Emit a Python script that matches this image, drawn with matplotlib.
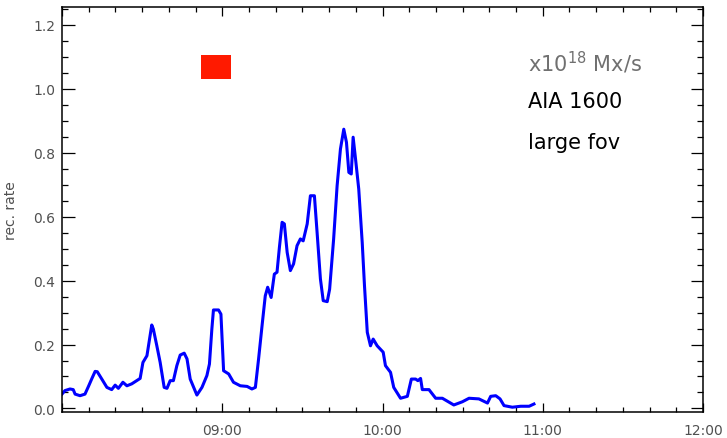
import matplotlib
matplotlib.use('Agg')
import matplotlib.pyplot as plt
from matplotlib.ticker import MultipleLocator, FuncFormatter

# minutes after 08:00 and reconnection rate (x10^18 Mx/s)
minutes = [0.0, 1.1, 3.0, 4.2, 4.9, 6.75, 8.6, 9.9, 11.1, 12.4, 13.2, 14.9, 16.8, 18.6,
           19.9, 21.1, 22.8, 24.3, 26.1, 27.4, 29.25, 30.3, 31.8, 33.6, 34.2, 35.5,
           36.75, 38.25, 39.3, 40.5, 41.7, 43.0, 44.25, 45.75, 46.8, 48.0, 50.5, 52.4,
           54.25, 55.2, 56.1, 56.7, 58.6, 59.5, 60.5, 62.4, 64.2, 66.75, 69.3, 71.1,
           72.4, 73.6, 74.9, 76.1, 77.0, 78.3, 79.5, 80.5, 81.4, 82.4, 83.25, 84.3,
           85.5, 86.7, 88.0, 89.25, 90.3, 91.8, 93.0, 94.5, 95.5, 96.75, 97.8, 99.3,
           100.2, 101.7, 103.0, 104.25, 105.5, 106.5, 107.4, 108.3, 109.0, 109.9,
           111.1, 112.4, 113.25, 114.3, 115.5, 116.5, 118.0, 120.25, 121.1, 123.0,
           124.2, 126.75, 129.3, 130.8, 132.4, 133.25, 134.25, 134.9, 137.4, 139.9,
           142.4, 146.7, 149.9, 152.4, 156.1, 159.3, 160.5, 162.4, 164.0, 165.5,
           168.6, 171.75, 174.9, 176.7]
rate = [0.045, 0.056, 0.061, 0.059, 0.045, 0.040, 0.045, 0.069, 0.092, 0.116, 0.115,
        0.092, 0.066, 0.059, 0.073, 0.063, 0.082, 0.071, 0.077, 0.084, 0.094, 0.144,
        0.165, 0.261, 0.248, 0.196, 0.144, 0.066, 0.063, 0.087, 0.087, 0.134, 0.167,
        0.173, 0.155, 0.092, 0.042, 0.066, 0.103, 0.139, 0.248, 0.308, 0.308, 0.295,
        0.118, 0.108, 0.082, 0.071, 0.069, 0.061, 0.066, 0.155, 0.259, 0.352, 0.379,
        0.347, 0.420, 0.426, 0.504, 0.582, 0.577, 0.488, 0.431, 0.452, 0.509, 0.530,
        0.524, 0.577, 0.665, 0.665, 0.551, 0.405, 0.337, 0.334, 0.373, 0.530, 0.696,
        0.811, 0.873, 0.832, 0.738, 0.733, 0.848, 0.780, 0.686, 0.519, 0.384, 0.238,
        0.196, 0.217, 0.196, 0.176, 0.134, 0.113, 0.066, 0.032, 0.038, 0.092, 0.092,
        0.087, 0.094, 0.059, 0.059, 0.032, 0.032, 0.011, 0.021, 0.032, 0.030, 0.017,
        0.038, 0.040, 0.030, 0.009, 0.004, 0.007, 0.007, 0.014]

# flare marker (minutes after 08:00, y range)
flare_t = [52.0, 63.4]
flare_y = [1.03, 1.105]

labels = ['x10$^{18}$ Mx/s', 'AIA 1600', 'large fov']
label_colors = ['#707070', 'black', 'black']

hours = [8 + m / 60.0 for m in minutes]
flare_h = [8 + m / 60.0 for m in flare_t]

fig = plt.figure(figsize=(7.27, 4.39), dpi=100)
ax = fig.add_axes([0.0853, 0.0592, 0.8817, 0.9226])

ax.plot(hours, rate, color='#0000ff', lw=2.2)
ax.fill_between(flare_h, flare_y[0], flare_y[1], color='#ff1a00', lw=0)

ax.set_xlim(8, 12)
ax.set_ylim(-0.011, 1.255)

ax.xaxis.set_major_locator(MultipleLocator(1))
ax.xaxis.set_minor_locator(MultipleLocator(1 / 6.0))
ax.xaxis.set_major_formatter(FuncFormatter(lambda v, p: '' if v < 8.5 else '%02d:00' % round(v)))
ax.yaxis.set_major_locator(MultipleLocator(0.2))
ax.yaxis.set_minor_locator(MultipleLocator(0.05))
ax.yaxis.set_major_formatter(FuncFormatter(lambda v, p: '%.1f' % v))

ax.tick_params(axis='both', which='both', direction='in', top=True, right=True,
               colors='black', labelcolor='#505050', labelsize=10, width=0.9)
ax.tick_params(axis='x', which='major', length=6.5, pad=8)
ax.tick_params(axis='x', which='minor', length=3.3)
ax.tick_params(axis='y', which='major', length=9, pad=5)
ax.tick_params(axis='y', which='minor', length=4.5)
for s in ax.spines.values():
    s.set_linewidth(1.1)

ax.set_ylabel('rec. rate', color='#505050', fontsize=10)
ax.yaxis.set_label_coords(-0.069, 0.5)

for i, (txt, c) in enumerate(zip(labels, label_colors)):
    ax.text(0.727, [0.864, 0.768, 0.667][i], txt, transform=ax.transAxes,
            color=c, fontsize=15, va='center', ha='left')

fig.savefig('out.png', dpi=100)
